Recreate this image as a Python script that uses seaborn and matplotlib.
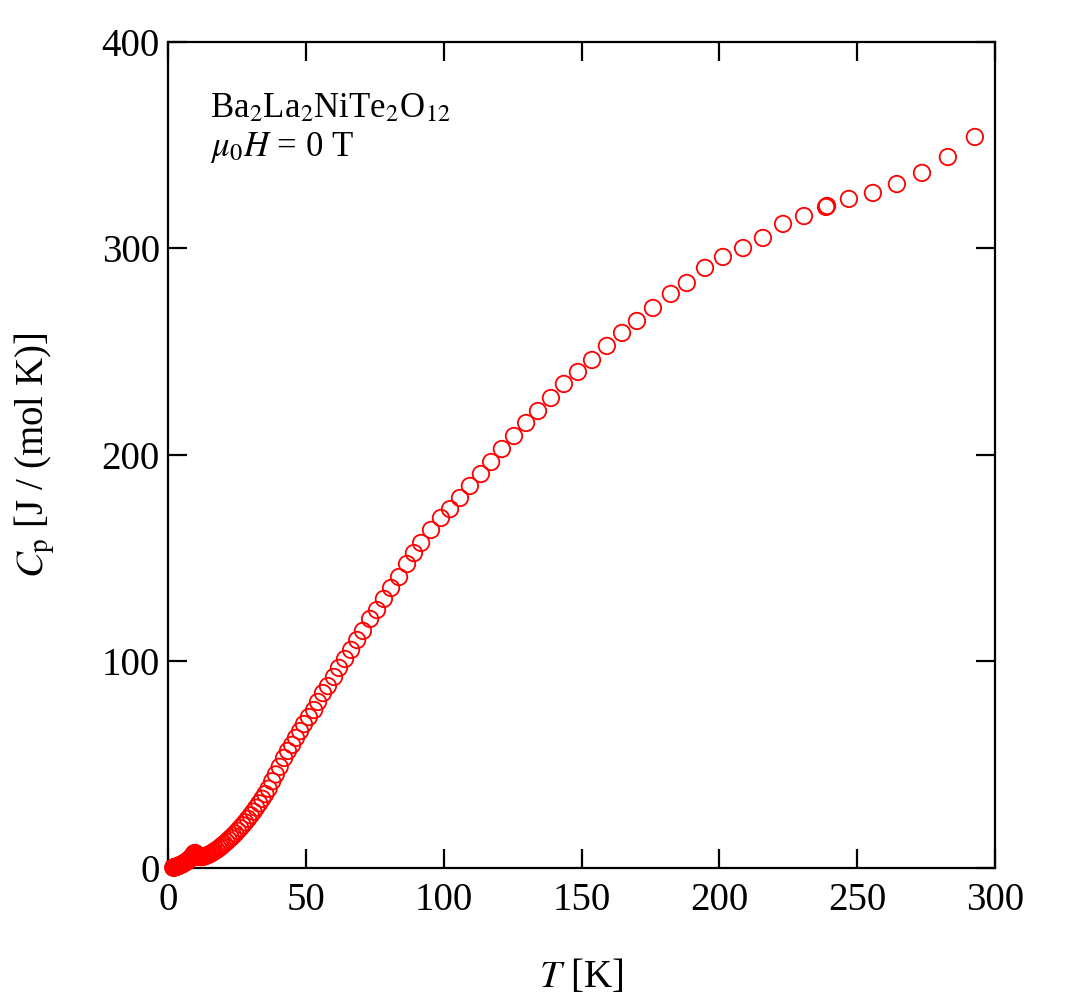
import matplotlib
matplotlib.use("Agg")
import matplotlib.pyplot as plt
import seaborn as sns
import pandas as pd

# Heat capacity of Ba2La2NiTe2O12 in zero field
temp_low = [1.9, 2.0, 2.1, 2.2, 2.3, 2.4, 2.5, 2.6, 2.7, 2.85, 3.0, 3.15, 3.3,
            3.45, 3.6, 3.75, 3.9, 4.1, 4.3, 4.5, 4.7, 4.9, 5.1, 5.3, 5.5,
            5.75, 6.0, 6.25, 6.5, 6.75, 7.0, 7.25, 7.5, 7.75, 8.0, 8.25, 8.5,
            8.75, 9.0, 9.2, 9.4, 9.6, 9.8, 10.0, 10.2, 10.4, 10.6, 10.8, 11.0,
            11.5, 12.0, 12.6, 13.2, 13.8, 14.4, 15.0, 15.6, 16.2, 16.9, 17.6,
            18.3, 19.0, 19.7, 20.4, 21.2, 22.0, 22.8, 23.6, 24.4, 25.3, 26.2,
            27.1, 28.0, 29.0, 30.0, 31.0, 32.0, 33.1, 34.2, 35.3, 36.5, 37.8,
            39.1, 40.5]
cp_low = [0.2, 0.22, 0.25, 0.28, 0.3, 0.35, 0.4, 0.45, 0.5, 0.55, 0.6, 0.68, 0.75,
          0.82, 0.9, 0.98, 1.05, 1.18, 1.3, 1.42, 1.55, 1.68, 1.8, 1.95, 2.1,
          2.3, 2.5, 2.7, 2.9, 3.15, 3.4, 3.65, 3.9, 4.2, 4.5, 4.85, 5.2,
          5.6, 6.0, 6.4, 6.8, 7.1, 7.3, 7.0, 6.6, 6.2, 5.9, 5.7, 5.5,
          5.3, 5.3, 5.4, 5.6, 5.9, 6.2, 6.6, 7.0, 7.5, 8.1, 8.7,
          9.4, 10.1, 10.9, 11.7, 12.6, 13.6, 14.6, 15.6, 16.7, 18.0, 19.3,
          20.7, 22.1, 23.8, 25.5, 27.3, 29.2, 31.3, 33.5, 35.8, 38.4, 42.0,
          45.3, 49.0]

temp_high = [42.1, 43.5, 45.0, 46.4, 47.9, 49.3, 51.1, 53.0, 54.4, 56.2,
             58.0, 60.2, 62.0, 64.2, 66.4, 68.6, 70.7, 73.3, 75.8, 78.3,
             80.9, 83.8, 86.7, 89.2, 91.8, 95.4, 99.0, 102.3, 105.9, 109.5,
             113.5, 117.2, 121.1, 125.5, 129.9, 134.2, 138.9, 143.6, 148.7, 153.8,
             159.2, 164.7, 170.1, 175.9, 182.4, 188.2, 194.8, 201.3, 208.6, 215.8,
             223.1, 230.7, 238.7, 239.1, 247.0, 255.7, 264.4, 273.5, 282.9, 292.7]
cp_high = [53.3, 56.7, 59.6, 63.0, 66.3, 69.7, 73.1, 76.5, 80.4, 84.7,
           88.1, 92.5, 96.9, 101.2, 105.6, 110.4, 114.8, 120.6, 124.9, 130.3,
           135.6, 140.9, 147.2, 152.5, 157.4, 163.7, 169.5, 173.8, 179.2, 185.0,
           190.8, 196.6, 202.9, 209.2, 215.5, 221.3, 227.6, 234.4, 240.2, 246.0,
           252.8, 259.1, 264.9, 271.2, 278.0, 283.3, 290.6, 295.9, 300.2, 305.1,
           311.9, 315.7, 320.1, 320.6, 324.0, 326.9, 331.2, 336.6, 344.3, 354.0]

df = pd.DataFrame({"T": temp_low + temp_high, "Cp": cp_low + cp_high})

sns.set_style("ticks")
plt.rcParams["font.family"] = ["Liberation Serif", "DejaVu Serif"]
plt.rcParams["mathtext.fontset"] = "stix"
plt.rcParams["text.color"] = "black"
plt.rcParams["axes.labelcolor"] = "black"

fig = plt.figure(figsize=(10.82, 9.97), dpi=100)
ax = fig.add_axes([0.1553, 0.1294, 0.7643, 0.8285])

sns.scatterplot(data=df, x="T", y="Cp", ax=ax, marker="o", s=140,
                facecolor="none", edgecolor="red", linewidth=1.3, zorder=3,
                clip_on=False)

ax.set_xlim(0, 300)
ax.set_ylim(0, 400)
ax.set_xticks([0, 50, 100, 150, 200, 250, 300])
ax.set_yticks([0, 100, 200, 300, 400])

for side in ax.spines.values():
    side.set_linewidth(1.6)
    side.set_color("black")
ax.tick_params(direction="in", length=14, width=1.6, labelsize=28,
               top=True, right=True, colors="black")
ax.tick_params(axis="x", pad=10)
ax.tick_params(axis="y", pad=6)

ax.set_xlabel("$T$ [K]", fontsize=28, labelpad=28)
ax.set_ylabel(r"$C_\mathrm{p}$ [J / (mol K)]", fontsize=28, labelpad=32)

ax.text(0.051, 0.909, r"Ba$_2$La$_2$NiTe$_2$O$_{12}$", transform=ax.transAxes,
        fontsize=25, va="baseline", ha="left")
ax.text(0.051, 0.862, r"$\mu_0H$ = 0 T", transform=ax.transAxes,
        fontsize=25, va="baseline", ha="left")

fig.savefig("out.png", dpi=100, facecolor="white")
